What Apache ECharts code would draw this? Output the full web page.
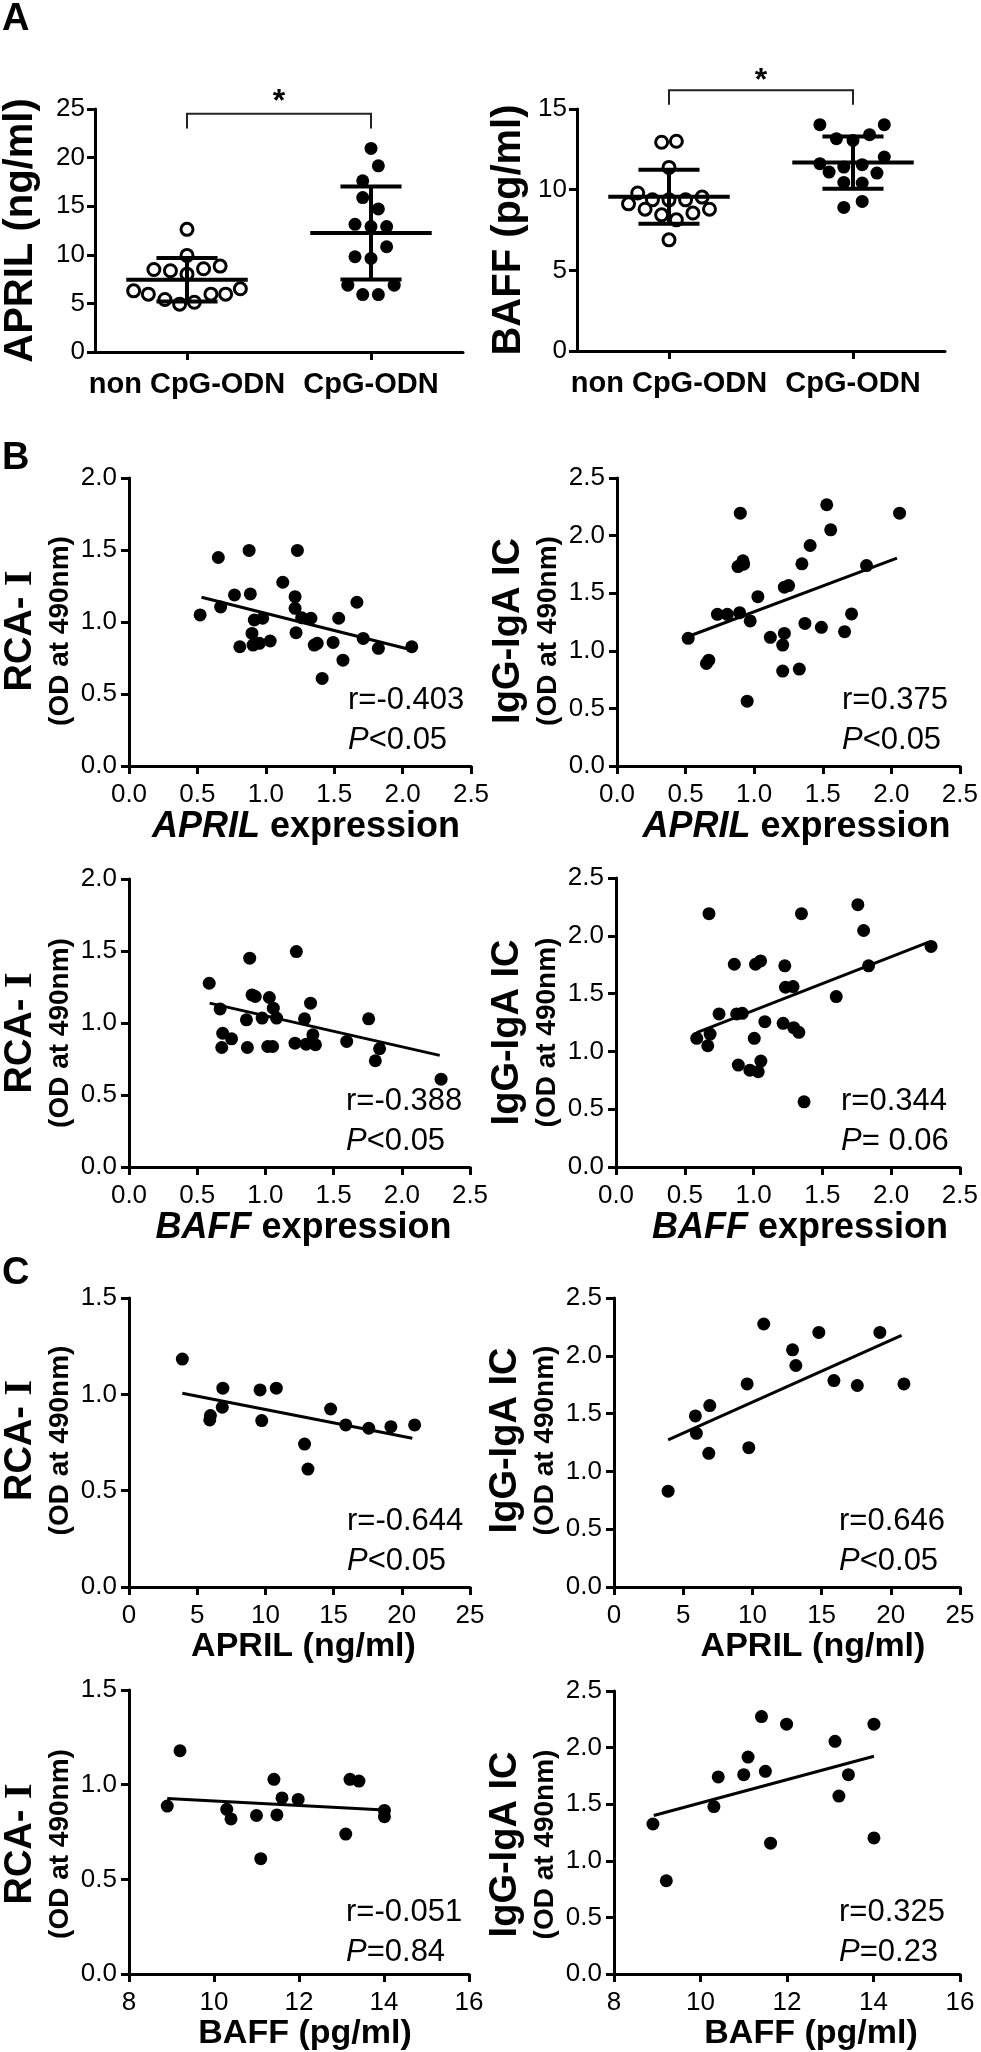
<!DOCTYPE html>
<html><head><meta charset="utf-8">
<script src="https://cdn.jsdelivr.net/npm/echarts@6/dist/echarts.min.js"></script>
<style>html,body{margin:0;padding:0;background:#fff}#c{width:981px;height:2052px}</style>
</head><body><div id="c"></div>
<script>
// ===================== DATA =====================
const groupNames = ['non CpG-ODN', 'CpG-ODN'];

// Panel A left: APRIL (ng/ml)
const aprilNon = [12.62, 9.94, 8.49, 8.36, 8.56, 8.84, 8.01, 6.29, 5.95, 5.40, 4.92, 5.12, 5.95, 5.95, 6.50];
const aprilNonJitter = [0, 0, -0.18, -0.09, 0.09, 0.18, 0, -0.29, -0.21, -0.12, -0.04, 0.04, 0.13, 0.21, 0.29];
const aprilCpg = [20.94, 19.15, 17.61, 15.89, 14.72, 13.14, 12.90, 12.90, 10.83, 9.80, 9.63, 6.88, 6.88, 5.91, 5.91];
const aprilCpgJitter = [0, 0.04, -0.045, -0.045, 0.04, -0.087, 0, 0.085, 0.085, -0.087, 0, -0.126, 0.126, -0.045, 0.04];
const aprilMean = [7.43, 12.24];
const aprilSD = [2.23, 4.78];
const aprilBracket = [23.0, 24.5, 26.1]; // leg bottom, bracket top, star

// Panel A right: BAFF (pg/ml)
const baffNon = [12.94, 13.0, 11.38, 9.79, 9.12, 9.37, 9.37, 9.37, 9.54, 8.79, 8.79, 8.44, 8.13, 8.55, 6.89];
const baffNonJitter = [-0.04, 0.04, 0, -0.17, -0.22, -0.09, 0, 0.09, 0.18, -0.13, 0.22, -0.04, 0.04, 0.13, 0];
const baffCpg = [14.03, 14.03, 13.16, 13.05, 13.41, 11.61, 12.02, 11.09, 11.4, 11.55, 11.03, 10.45, 10.41, 8.9, 9.27];
const baffCpgJitter = [-0.18, 0.17, -0.09, 0, 0.09, -0.18, 0.17, -0.13, -0.05, 0.05, 0.13, -0.05, 0.05, -0.05, 0.05];
const baffMean = [9.56, 11.68];
const baffSD = [1.68, 1.62];
const baffBracket = [15.27, 16.16, 17.0];

// Panel B row 1 left: APRIL expression vs RCA-I
const b1LX = [0.52,0.653,0.67,0.771,0.81,0.878,0.887,0.899,0.916,0.907,0.953,0.977,1.032,1.124,1.214,1.214,1.221,1.231,1.262,1.33,1.354,1.376,1.412,1.492,1.533,1.564,1.666,1.712,1.823,2.067];
const b1LY = [1.049,1.448,1.104,1.188,0.828,1.497,1.195,0.921,1.014,0.84,0.852,1.026,0.868,1.276,1.176,1.095,0.926,1.497,1.03,1.026,0.84,0.852,0.608,0.858,1.026,0.735,1.137,0.886,0.817,0.828];
const b1LFit = [[0.53, 1.172], [2.04, 0.812]];

// Panel B row 1 right: APRIL expression vs IgG-IgA IC
const b1RX = [0.519,0.652,0.669,0.732,0.804,0.882,0.899,0.894,0.918,0.923,0.949,0.971,1.027,1.118,1.208,1.208,1.22,1.22,1.251,1.329,1.348,1.37,1.408,1.49,1.529,1.558,1.659,1.71,1.819,2.06];
const b1RY = [1.108,0.89,0.919,1.317,1.317,1.731,2.195,1.331,1.781,1.752,0.563,1.259,1.47,1.117,0.824,1.05,1.151,1.552,1.566,0.841,1.755,1.238,1.914,1.204,2.268,2.05,1.166,1.32,1.74,2.195];
const b1RFit = [[0.548, 1.137], [2.041, 1.804]];

// Panel B row 2 left: BAFF expression vs RCA-I
const b2LX = [0.588,0.668,0.687,0.68,0.752,0.861,0.868,0.885,0.902,0.926,0.976,1.017,1.029,1.053,1.058,1.082,1.217,1.227,1.287,1.299,1.331,1.348,1.367,1.596,1.757,1.806,1.837,2.288];
const b2LY = [1.276,1.098,0.929,0.83,0.89,1.022,0.83,1.45,1.195,1.184,1.034,0.837,1.177,0.837,1.103,1.034,0.86,1.496,1.029,0.853,1.138,0.918,0.849,0.872,1.029,0.738,0.821,0.61];
const b2LFit = [[0.591, 1.138], [2.278, 0.775]];

// Panel B row 2 right: BAFF expression vs IgG-IgA IC
const b2RX = [0.587,0.667,0.684,0.676,0.749,0.86,0.877,0.889,0.918,0.973,1.005,1.014,1.034,1.051,1.053,1.082,1.215,1.227,1.232,1.287,1.292,1.329,1.348,1.367,1.601,1.758,1.8,1.836,2.29];
const b2RY = [1.113,1.049,1.15,2.191,1.324,1.754,1.324,0.882,1.329,0.838,1.113,1.754,0.824,1.783,0.916,1.257,1.243,1.74,1.555,1.561,1.205,1.165,2.191,0.564,1.474,2.269,2.046,1.74,1.908];
const b2RFit = [[0.587, 1.162], [2.273, 1.945]];

// Panel C row 1 left: APRIL (ng/ml) vs RCA-I
const c1LX = [3.91,5.92,5.97,6.88,6.84,9.61,9.73,10.8,12.87,13.12,14.78,15.89,17.58,19.2,20.94];
const c1LY = [1.183,0.867,0.89,1.032,0.933,1.023,0.864,1.032,0.742,0.612,0.924,0.841,0.824,0.832,0.841];
const c1LFit = [[3.91, 1.006], [20.77, 0.772]];

// Panel C row 1 right: APRIL (ng/ml) vs IgG-IgA IC
const c1RX = [3.91,5.88,5.95,6.85,6.92,9.62,9.74,10.82,12.9,13.14,14.8,15.89,17.58,19.21,20.95];
const c1RY = [0.829,1.48,1.329,1.156,1.569,1.757,1.205,2.275,2.052,1.916,2.202,1.786,1.743,2.202,1.757];
const c1RFit = [[3.91, 1.272], [20.78, 2.176]];

// Panel C row 2 left: BAFF (pg/ml) vs RCA-I
const c2LX = [8.9,9.2,10.3,10.4,11.0,11.1,11.41,11.48,11.6,11.98,13.1,13.2,13.41,14.01,14.01];
const c2LY = [0.887,1.179,0.87,0.819,0.837,0.609,1.028,0.84,0.93,0.922,0.739,1.028,1.019,0.864,0.831];
const c2LFit = [[8.9, 0.927], [14.01, 0.866]];

// Panel C row 2 right: BAFF (pg/ml) vs IgG-IgA IC
const c2RX = [8.9,9.21,10.31,10.41,11.0,11.1,11.41,11.5,11.62,11.99,13.11,13.2,13.42,14.01,14.01];
const c2RY = [1.325,0.824,1.479,1.741,1.761,1.916,2.274,1.79,1.156,2.207,2.055,1.572,1.761,2.207,1.202];
const c2RFit = [[8.92, 1.4], [14.01, 1.924]];

// Statistics text
const rTexts = ['r=-0.403', 'r=0.375', 'r=-0.388', 'r=0.344', 'r=-0.644', 'r=0.646', 'r=-0.051', 'r=0.325'];
const pTexts = ['<0.05', '<0.05', '<0.05', '= 0.06', '<0.05', '<0.05', '=0.84', '=0.23'];

// Axis titles
const yTitlesA = ['APRIL (ng/ml)', 'BAFF (pg/ml)'];
const yTitleLeft = ['{a|RCA- }{s|I}', '(OD at 490nm)'];
const yTitleRight = ['{a|IgG-IgA IC}', '(OD at 490nm)'];
const xTitlesBC = ['{i|APRIL} expression', '{i|BAFF} expression', 'APRIL (ng/ml)', 'BAFF (pg/ml)'];
const panelLetters = ['A', 'B', 'C'];

// ===================== LAYOUT =====================
const FF = '"Liberation Sans", Arial, "Noto Sans CJK SC", sans-serif';
const SERIF = '"Liberation Serif", "Times New Roman", serif';
const grids = [
  {left: 94, top: 109, width: 369, height: 243},
  {left: 577, top: 109, width: 368, height: 242},
  {left: 126, top: 478, width: 345, height: 288},
  {left: 617, top: 478, width: 345, height: 288},
  {left: 124, top: 879, width: 346, height: 288},
  {left: 616, top: 878, width: 345, height: 289},
  {left: 125, top: 1298, width: 345, height: 289},
  {left: 614, top: 1298, width: 346, height: 289},
  {left: 124, top: 1690, width: 345, height: 288},
  {left: 614, top: 1691, width: 346, height: 287}
];

const scatterPanels = [
  {x: b1LX, y: b1LY, fit: b1LFit, xr: [0, 2.5, 0.5, 1], yr: [0, 2.0, 0.5, 1], xt: 0, yt: yTitleLeft, xs: 6, ys: 9},
  {x: b1RX, y: b1RY, fit: b1RFit, xr: [0, 2.5, 0.5, 1], yr: [0, 2.5, 0.5, 1], xt: 0, yt: yTitleRight, xs: 8, ys: 9},
  {x: b2LX, y: b2LY, fit: b2LFit, xr: [0, 2.5, 0.5, 1], yr: [0, 2.0, 0.5, 1], xt: 1, yt: yTitleLeft, xs: 4, ys: 10},
  {x: b2RX, y: b2RY, fit: b2RFit, xr: [0, 2.5, 0.5, 1], yr: [0, 2.5, 0.5, 1], xt: 1, yt: yTitleRight, xs: 12, ys: 10},
  {x: c1LX, y: c1LY, fit: c1LFit, xr: [0, 25, 5, 0], yr: [0, 1.5, 0.5, 1], xt: 2, yt: yTitleLeft, xs: 4, ys: -2},
  {x: c1RX, y: c1RY, fit: c1RFit, xr: [0, 25, 5, 0], yr: [0, 2.5, 0.5, 1], xt: 2, yt: yTitleRight, xs: 26, ys: -2},
  {x: c2LX, y: c2LY, fit: c2LFit, xr: [8, 16, 2, 0], yr: [0, 1.5, 0.5, 1], xt: 3, yt: yTitleLeft, xs: 6, ys: 12},
  {x: c2RX, y: c2RY, fit: c2RFit, xr: [8, 16, 2, 0], yr: [0, 2.5, 0.5, 1], xt: 3, yt: yTitleRight, xs: 24, ys: 12}
];

const BLACK = '#000';
const TICK_FS = 26;
const axisLineStyle = {show: true, onZero: false, lineStyle: {color: BLACK, width: 3}};
const axisTickStyle = {show: true, length: 8, inside: false, lineStyle: {color: BLACK, width: 3}};

const xAxes = [], yAxes = [], series = [], graphics = [];

// ---- Panel A ----
function meanSdRender(params, api) {
  const i = api.value(0), m = api.value(1), s = api.value(2);
  const L = (a, b) => ({type: 'line', shape: {x1: a[0], y1: a[1], x2: b[0], y2: b[1]},
    style: {stroke: BLACK, lineWidth: 4}});
  return {type: 'group', children: [
    L(api.coord([i - 0.33, m]), api.coord([i + 0.33, m])),
    L(api.coord([i - 0.166, m + s]), api.coord([i + 0.166, m + s])),
    L(api.coord([i - 0.166, m - s]), api.coord([i + 0.166, m - s])),
    L(api.coord([i, m + s]), api.coord([i, m - s]))
  ]};
}
function bracketRender(params, api) {
  const a = api.value(0), b = api.value(1), lo = api.value(2), hi = api.value(3), st = api.value(4);
  const p1 = api.coord([a, lo]), p2 = api.coord([a, hi]), p3 = api.coord([b, hi]), p4 = api.coord([b, lo]);
  const ps = api.coord([(a + b) / 2, st]);
  return {type: 'group', children: [
    {type: 'polyline', shape: {points: [p1, p2, p3, p4]}, style: {stroke: '#222', lineWidth: 2, fill: null}},
    {type: 'text', x: ps[0], y: ps[1] + 4, style: {text: '*', fill: BLACK, font: 'bold 32px ' + FF, align: 'center', verticalAlign: 'middle'}}
  ]};
}

const panelA = [
  {non: aprilNon, nj: aprilNonJitter, cpg: aprilCpg, cj: aprilCpgJitter, mean: aprilMean, sd: aprilSD, br: aprilBracket, ymax: 25, title: yTitlesA[0], gap: 54},
  {non: baffNon, nj: baffNonJitter, cpg: baffCpg, cj: baffCpgJitter, mean: baffMean, sd: baffSD, br: baffBracket, ymax: 15, title: yTitlesA[1], gap: 48}
];
panelA.forEach((p, k) => {
  xAxes.push({type: 'category', gridIndex: k, data: groupNames, boundaryGap: true,
    axisLine: axisLineStyle, axisTick: Object.assign({alignWithLabel: true}, axisTickStyle),
    axisLabel: {color: BLACK, fontFamily: FF, fontSize: 29, fontWeight: 'bold', margin: 18, interval: 0},
    splitLine: {show: false}});
  const valIdx = xAxes.length;
  xAxes.push({type: 'value', gridIndex: k, min: -0.5, max: 1.5, show: false});
  yAxes.push({type: 'value', gridIndex: k, min: 0, max: p.ymax, interval: 5,
    axisLine: axisLineStyle, axisTick: axisTickStyle,
    axisLabel: {color: BLACK, fontFamily: FF, fontSize: TICK_FS, margin: 10},
    splitLine: {show: false},
    name: p.title, nameLocation: 'middle', nameRotate: 90, nameGap: p.gap,
    nameTextStyle: {color: BLACK, fontFamily: FF, fontSize: 40, fontWeight: 'bold'}});
  series.push({type: 'scatter', xAxisIndex: valIdx, yAxisIndex: k, symbol: 'circle', symbolSize: 12,
    itemStyle: {color: '#fff', borderColor: BLACK, borderWidth: 3, opacity: 1},
    data: p.non.map((v, j) => [0 + p.nj[j], v]), z: 3});
  series.push({type: 'scatter', xAxisIndex: valIdx, yAxisIndex: k, symbol: 'circle', symbolSize: 13,
    itemStyle: {color: BLACK, opacity: 1},
    data: p.cpg.map((v, j) => [1 + p.cj[j], v]), z: 3});
  series.push({type: 'custom', xAxisIndex: valIdx, yAxisIndex: k, renderItem: meanSdRender, z: 4,
    data: p.mean.map((m, j) => [j, m, p.sd[j]]), clip: false});
  series.push({type: 'custom', xAxisIndex: valIdx, yAxisIndex: k, renderItem: bracketRender, z: 4,
    data: [[0, 1, p.br[0], p.br[1], p.br[2]]], clip: false});
});

// ---- Panels B & C ----
scatterPanels.forEach((p, k) => {
  const g = k + 2;
  const xi = xAxes.length;
  const fixed = d => (v => v.toFixed(d));
  const nfs = (p.xt < 2 ? 36 : 34);
  xAxes.push({type: 'value', gridIndex: g, min: p.xr[0], max: p.xr[1], interval: p.xr[2],
    axisLine: axisLineStyle, axisTick: axisTickStyle,
    axisLabel: {color: BLACK, fontFamily: FF, fontSize: TICK_FS, margin: 16, formatter: fixed(p.xr[3])},
    splitLine: {show: false},
    name: xTitlesBC[p.xt], nameLocation: 'middle', nameGap: 43,
    nameTextStyle: {color: BLACK, fontFamily: FF, fontSize: nfs, fontWeight: 'bold',
      padding: [0, 0, 0, 2 * p.xs],
      rich: {i: {fontStyle: 'italic', fontWeight: 'bold', fontFamily: FF, fontSize: nfs, color: BLACK}}}});
  const yi = yAxes.length;
  yAxes.push({type: 'value', gridIndex: g, min: p.yr[0], max: p.yr[1], interval: p.yr[2],
    axisLine: axisLineStyle, axisTick: axisTickStyle,
    axisLabel: {color: BLACK, fontFamily: FF, fontSize: TICK_FS, margin: 12, formatter: fixed(p.yr[3])},
    splitLine: {show: false},
    name: p.yt[0] + '\n{b|' + p.yt[1] + '}', nameLocation: 'middle', nameRotate: 90, nameGap: 52,
    nameTextStyle: {color: BLACK, fontFamily: FF, padding: [0, 2 * p.ys, 0, 0],
      rich: {
        a: {fontFamily: FF, fontSize: 38, fontWeight: 'bold', lineHeight: 44, color: BLACK},
        s: {fontFamily: SERIF, fontSize: 40, fontWeight: 'bold', lineHeight: 44, color: BLACK},
        b: {fontFamily: FF, fontSize: 28, fontWeight: 'bold', lineHeight: 34, color: BLACK}
      }}});
  series.push({type: 'line', xAxisIndex: xi, yAxisIndex: yi, data: p.fit, symbol: 'none',
    lineStyle: {color: BLACK, width: 3}, z: 2, silent: true});
  series.push({type: 'scatter', xAxisIndex: xi, yAxisIndex: yi, symbol: 'circle', symbolSize: 13,
    itemStyle: {color: BLACK, opacity: 1}, data: p.x.map((v, j) => [v, p.y[j]]), z: 3});

  // statistics text
  const gr = grids[g];
  const tx = gr.left + (k % 2 === 0 ? 222 : 225);
  const bottom = gr.top + gr.height;
  graphics.push({type: 'text', x: tx, y: bottom - 50, style: {text: rTexts[k], fill: BLACK,
    fontFamily: FF, fontSize: 31, align: 'left', verticalAlign: 'bottom'}});
  graphics.push({type: 'text', x: tx, y: bottom - 10, style: {text: '{i|P}' + pTexts[k], fill: BLACK,
    fontFamily: FF, fontSize: 31, align: 'left', verticalAlign: 'bottom',
    rich: {i: {fontStyle: 'italic', fontFamily: FF, fontSize: 31, fill: BLACK}}}});
});

// panel letters
const letterTops = [1, 440, 1255];
panelLetters.forEach((t, i) => {
  graphics.push({type: 'text', x: 2, y: letterTops[i], style: {text: t, fill: BLACK,
    fontFamily: FF, fontSize: 38, fontWeight: 'bold', align: 'left', verticalAlign: 'top'}});
});

const chart = echarts.init(document.getElementById('c'), null, {renderer: 'canvas'});
chart.setOption({
  backgroundColor: '#fff',
  animation: false,
  grid: grids.map(g => Object.assign({containLabel: false}, g)),
  xAxis: xAxes,
  yAxis: yAxes,
  series: series,
  graphic: graphics
});
</script></body></html>
